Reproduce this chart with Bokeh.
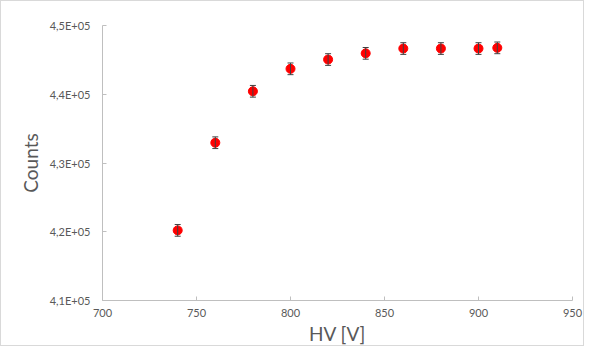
from bokeh.plotting import figure
from bokeh.models import ColumnDataSource, Whisker, FixedTicker, Range1d
from bokeh.embed import file_html
from bokeh.resources import INLINE

hv = [740, 760, 780, 800, 820, 840, 860, 880, 900, 910]
counts = [420200, 432950, 440430, 443700, 445050, 445950, 446650, 446650, 446650, 446750]
errors = [850, 850, 850, 850, 850, 850, 850, 850, 850, 850]

x_ticks = [700, 750, 800, 850, 900, 950]
y_ticks = [410000, 420000, 430000, 440000, 450000]
y_tick_labels = ["4,1E+05", "4,2E+05", "4,3E+05", "4,4E+05", "4,5E+05"]

lower = [c - e for c, e in zip(counts, errors)]
upper = [c + e for c, e in zip(counts, errors)]
src = ColumnDataSource(dict(x=hv, y=counts, lower=lower, upper=upper))

FONT = "Lato"
GRAY = "#595959"
AXIS = "#bfbfbf"

p = figure(width=584, height=346, output_backend="svg", toolbar_location=None,
           x_range=Range1d(700, 950), y_range=Range1d(410000, 450000),
           min_border_left=101, min_border_right=13, min_border_top=24, min_border_bottom=41)
p.outline_line_color = None
p.xgrid.grid_line_color = None
p.ygrid.grid_line_color = None
p.background_fill_color = "white"
p.border_fill_color = "white"
p.styles = {"border": "1px solid #d9d9d9", "box-sizing": "border-box"}

whisk = Whisker(source=src, base="x", lower="lower", upper="upper", dimension="height",
                line_color="#404040", line_width=1, level="overlay")
whisk.upper_head.size = 6
whisk.lower_head.size = 6
whisk.upper_head.line_color = "#404040"
whisk.lower_head.line_color = "#404040"
p.add_layout(whisk)

p.scatter("x", "y", source=src, size=9, fill_color="#ff0000", line_color="#ff0000", level="overlay")

p.xaxis.ticker = FixedTicker(ticks=x_ticks)
p.yaxis.ticker = FixedTicker(ticks=y_ticks)
p.yaxis.major_label_overrides = {t: l for t, l in zip(y_ticks, y_tick_labels)}
p.xaxis.minor_tick_line_color = None
p.yaxis.minor_tick_line_color = None

for ax in (p.xaxis, p.yaxis):
    ax.axis_line_color = AXIS
    ax.major_tick_line_color = AXIS
    ax.major_tick_in = 4
    ax.major_tick_out = 0
    ax.major_label_text_font = FONT
    ax.major_label_text_font_size = "11px"
    ax.major_label_text_color = GRAY
    ax.axis_label_text_font = FONT
    ax.axis_label_text_font_size = "19px"
    ax.axis_label_text_font_style = "normal"
    ax.axis_label_text_color = GRAY

p.xaxis.axis_label = "HV [V]"
p.yaxis.axis_label = "Counts"
p.xaxis.major_label_standoff = 8
p.yaxis.major_label_standoff = 12
p.xaxis.axis_label_standoff = 2
p.yaxis.axis_label_standoff = 5

open("out.html", "w").write(file_html(p, INLINE))
